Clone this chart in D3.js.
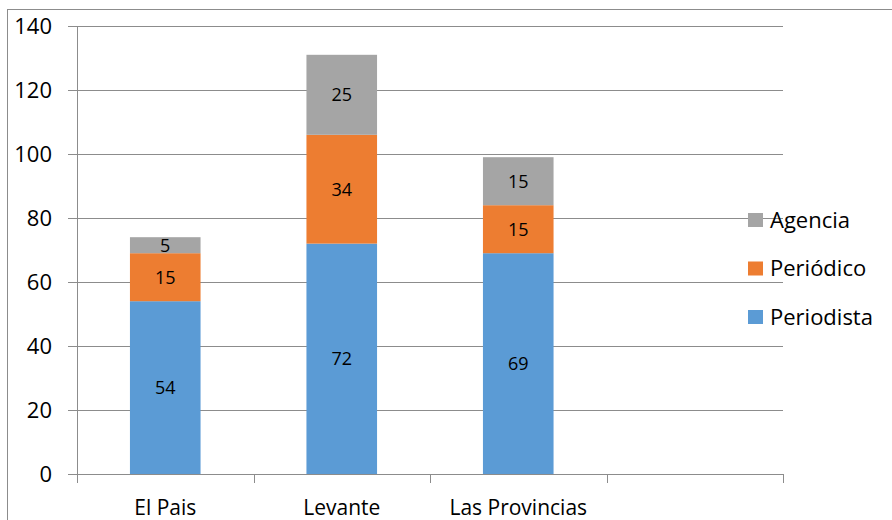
<!DOCTYPE html>
<html><head><meta charset="utf-8">
<script src="https://cdn.jsdelivr.net/npm/d3@7"></script>
<style>body{margin:0;background:#fff}svg{display:block;font-family:"Open Sans",sans-serif}</style>
</head><body>
<svg id="c" width="892" height="520"></svg>
<script>
const categories = ["El Pais", "Levante", "Las Provincias", ""];
const seriesNames = ["Periodista", "Periódico", "Agencia"];
const periodista = [54, 72, 69];
const periodico = [15, 34, 15];
const agencia = [5, 25, 15];
const colors = ["#5B9BD5", "#ED7D31", "#A5A5A5"];
const yTicks = [0, 20, 40, 60, 80, 100, 120, 140];

const FONT = "'Open Sans',sans-serif";
const svg = d3.select("#c");
const L = 77, R = 783, T = 26, B = 474;

svg.append("rect").attr("x", 7.5).attr("y", 9.5).attr("width", 900).attr("height", 520)
  .attr("fill", "none").attr("stroke", "#8c8c8c").attr("stroke-width", 1);

const x = d3.scaleBand().domain(categories).range([L, R]).paddingInner(0).paddingOuter(0);
const y = d3.scaleLinear().domain([0, 140]).range([B, T]);

// gridlines + y axis
const ya = svg.append("g").attr("transform", `translate(${L},0)`)
  .call(d3.axisLeft(y).tickValues(yTicks).tickSize(9).tickPadding(16).tickSizeOuter(0));
ya.select(".domain").attr("stroke", "#8c8c8c");
ya.selectAll(".tick line").attr("stroke", "#8c8c8c");
ya.selectAll(".tick text").attr("font-size", 22).attr("fill", "#000").attr("font-family", FONT);
svg.append("g").selectAll("line").data(yTicks.filter(d => d > 0)).join("line")
  .attr("x1", L).attr("x2", R).attr("y1", d => Math.round(y(d)) + 0.5).attr("y2", d => Math.round(y(d)) + 0.5)
  .attr("stroke", "#8c8c8c");

const stackData = categories.slice(0, 3).map((c, i) => ({cat: c, Periodista: periodista[i], "Periódico": periodico[i], Agencia: agencia[i]}));
const stack = d3.stack().keys(seriesNames)(stackData);
const bw = x.bandwidth() * 0.4;

const groups = svg.append("g").selectAll("g").data(stack).join("g").attr("fill", (d, i) => colors[i]);
groups.selectAll("rect").data(d => d).join("rect")
  .attr("x", d => x(d.data.cat) + (x.bandwidth() - bw) / 2)
  .attr("width", bw)
  .attr("y", d => y(d[1]))
  .attr("height", d => y(d[0]) - y(d[1]));
groups.selectAll("text").data(d => d).join("text")
  .attr("x", d => x(d.data.cat) + x.bandwidth() / 2)
  .attr("y", d => (y(d[0]) + y(d[1])) / 2)
  .attr("dy", "0.36em").attr("text-anchor", "middle").attr("font-size", 18).attr("fill", "#000")
  .attr("font-family", FONT)
  .text(d => d[1] - d[0]);

// x axis
const xa = svg.append("g").attr("transform", `translate(0,${B})`)
  .call(d3.axisBottom(x).tickSize(0).tickPadding(0));
xa.select(".domain").attr("stroke", "#8c8c8c");
xa.selectAll(".tick text").attr("font-size", 21).attr("fill", "#000").attr("font-family", FONT)
  .attr("dy", null).attr("y", 41);
const bounds = categories.map(c => x(c)).concat([R]);
svg.append("g").selectAll("line").data(bounds).join("line")
  .attr("x1", d => Math.round(d) + 0.5).attr("x2", d => Math.round(d) + 0.5)
  .attr("y1", B).attr("y2", B + 9).attr("stroke", "#8c8c8c");

// legend
const legendItems = [2, 1, 0];
const lg = svg.append("g").selectAll("g").data(legendItems).join("g")
  .attr("transform", (d, i) => `translate(748,${220 + i * 48.5})`);
lg.append("rect").attr("x", 0).attr("y", -7).attr("width", 15).attr("height", 14).attr("fill", d => colors[d]);
lg.append("text").attr("x", 22).attr("dy", "0.36em").attr("font-size", 22).attr("fill", "#000")
  .attr("font-family", FONT).text(d => seriesNames[d]);
</script>
</body></html>
